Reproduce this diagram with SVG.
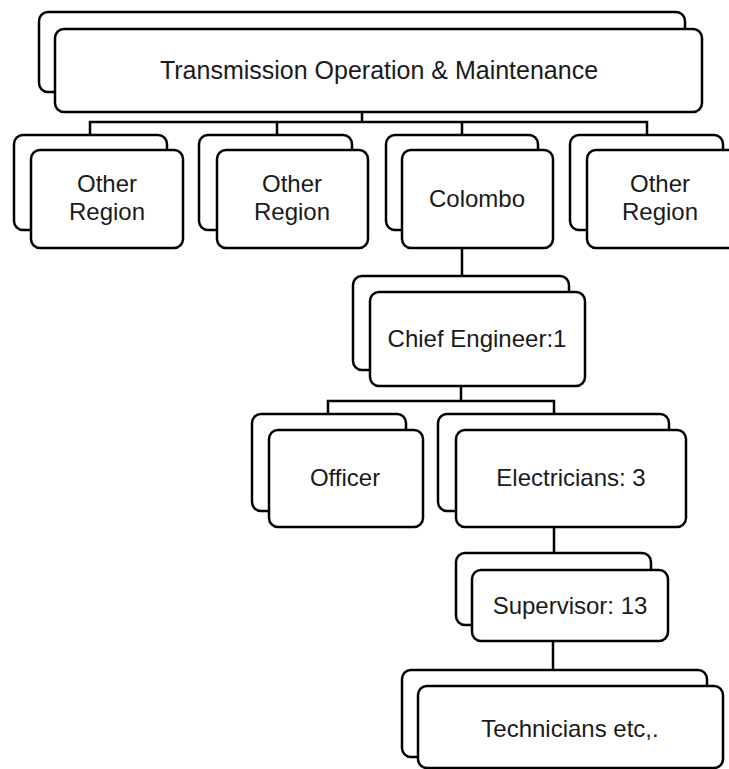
<svg xmlns="http://www.w3.org/2000/svg" width="729" height="769" viewBox="0 0 729 769">
<style>
.b{fill:#fff;stroke:#000;stroke-width:2.5}
.t{font-family:"Liberation Sans",Arial,sans-serif;font-size:24px;fill:#1a1a1a;text-anchor:middle}
.c{fill:none;stroke:#000;stroke-width:2.5}
</style>
<rect width="729" height="769" fill="#fff"/>
<g id="connectors">
<path class="c" d="M362 112V122M90 135V122H647V135M277 122V135M462 122V135"/>
<path class="c" d="M462 248V275"/>
<path class="c" d="M461 386V401M328 414V401H554V414"/>
<path class="c" d="M554 527V553"/>
<path class="c" d="M553 641V670"/>
</g>
<g id="n-top">
<rect class="b" x="39" y="12" width="646" height="80" rx="9"/>
<rect class="b" x="55" y="29" width="647" height="83" rx="9"/>
<text class="t" x="379" y="79" style="font-size:25px">Transmission Operation &amp; Maintenance</text>
</g>
<g id="n-other1">
<rect class="b" x="14" y="135" width="153" height="95" rx="9"/>
<rect class="b" x="31" y="150" width="152" height="98" rx="9"/>
<text class="t" x="107" y="192">Other</text>
<text class="t" x="107" y="220">Region</text>
</g>
<g id="n-other2">
<rect class="b" x="199" y="135" width="153" height="95" rx="9"/>
<rect class="b" x="217" y="150" width="151" height="98" rx="9"/>
<text class="t" x="292" y="192">Other</text>
<text class="t" x="292" y="220">Region</text>
</g>
<g id="n-colombo">
<rect class="b" x="386" y="135" width="152" height="95" rx="9"/>
<rect class="b" x="402" y="150" width="151" height="98" rx="9"/>
<text class="t" x="477" y="207">Colombo</text>
</g>
<g id="n-other4">
<rect class="b" x="570" y="135" width="153" height="95" rx="9"/>
<rect class="b" x="587" y="150" width="152" height="98" rx="9"/>
<text class="t" x="660" y="192">Other</text>
<text class="t" x="660" y="220">Region</text>
</g>
<g id="n-chief">
<rect class="b" x="353" y="276" width="216" height="94" rx="9"/>
<rect class="b" x="370" y="292" width="215" height="94" rx="9"/>
<text class="t" x="477" y="347">Chief Engineer:1</text>
</g>
<g id="n-officer">
<rect class="b" x="252" y="414" width="154" height="97" rx="9"/>
<rect class="b" x="269" y="430" width="154" height="97" rx="9"/>
<text class="t" x="345" y="486">Officer</text>
</g>
<g id="n-electricians">
<rect class="b" x="438" y="414" width="231" height="97" rx="9"/>
<rect class="b" x="456" y="430" width="230" height="97" rx="9"/>
<text class="t" x="571" y="486">Electricians: 3</text>
</g>
<g id="n-supervisor">
<rect class="b" x="456" y="553" width="195" height="72" rx="9"/>
<rect class="b" x="472" y="570" width="196" height="71" rx="9"/>
<text class="t" x="570" y="614">Supervisor: 13</text>
</g>
<g id="n-technicians">
<rect class="b" x="402" y="670" width="305" height="87" rx="9"/>
<rect class="b" x="418" y="686" width="305" height="82" rx="9"/>
<text class="t" x="570" y="737">Technicians etc,.</text>
</g>
</svg>
